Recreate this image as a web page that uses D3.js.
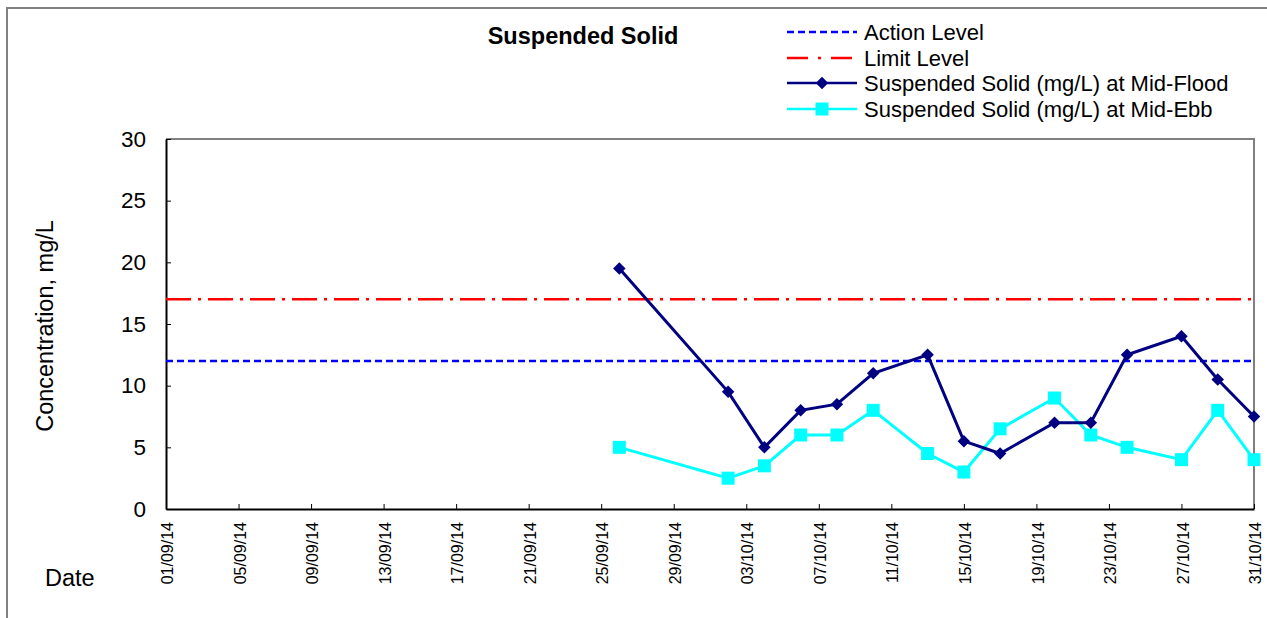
<!DOCTYPE html>
<html>
<head>
<meta charset="utf-8">
<script src="https://cdn.jsdelivr.net/npm/d3@7"></script>
<style>
  body { margin: 0; background: #fff; }
  text { font-family: "Liberation Sans", Arial, sans-serif; fill: #000; }
</style>
</head>
<body>
<div id="chart"></div>
<script>
// Sampling dates (dd/mm/yy)
var dates = ["26/09/14", "02/10/14", "04/10/14", "06/10/14", "08/10/14", "10/10/14", "13/10/14",
             "15/10/14", "17/10/14", "20/10/14", "22/10/14", "24/10/14", "27/10/14", "29/10/14", "31/10/14"];
var midFlood = [19.5, 9.5, 5, 8, 8.5, 11, 12.5, 5.5, 4.5, 7, 7, 12.5, 14, 10.5, 7.5];
var midEbb = [5, 2.5, 3.5, 6, 6, 8, 4.5, 3, 6.5, 9, 6, 5, 4, 8, 4];
var actionLevel = 12;
var limitLevel = 17;
var xTickLabels = ["01/09/14", "05/09/14", "09/09/14", "13/09/14", "17/09/14", "21/09/14", "25/09/14", "29/09/14",
                   "03/10/14", "07/10/14", "11/10/14", "15/10/14", "19/10/14", "23/10/14", "27/10/14", "31/10/14"];
var yTicks = [0, 5, 10, 15, 20, 25, 30];

var parseDate = d3.utcParse("%d/%m/%y");

var main = function () {
    "use strict";

    var width = 1267, height = 618;
    var margin = {top: 139, right: 13, bottom: 109, left: 166};
    var w = width - margin.left - margin.right,
        h = height - margin.top - margin.bottom;

    var svg = d3.select("#chart").append("svg")
        .attr("width", width)
        .attr("height", height);

    // Outer chart frame
    svg.append("rect")
        .attr("x", 7).attr("y", 8)
        .attr("width", 1280).attr("height", 640)
        .attr("fill", "none").attr("stroke", "#808080").attr("stroke-width", 2);

    var g = svg.append("g")
        .attr("transform", "translate(" + margin.left + "," + margin.top + ")");

    var x = d3.scaleUtc()
        .domain([parseDate(xTickLabels[0]), parseDate(xTickLabels[xTickLabels.length - 1])])
        .range([0, w]);
    var y = d3.scaleLinear().domain([0, 30]).range([h, 0]);

    // Plot area border (top and right in gray)
    g.append("path")
        .attr("d", "M0,0H" + w + "V" + h)
        .attr("fill", "none").attr("stroke", "#808080").attr("stroke-width", 2);

    // X axis
    var xAxis = g.append("g")
        .attr("transform", "translate(0," + h + ")")
        .call(d3.axisBottom(x)
            .tickValues(xTickLabels.map(parseDate))
            .tickSize(-5)
            .tickSizeOuter(0)
            .tickFormat(d3.utcFormat("%d/%m/%y")));
    xAxis.select(".domain").attr("stroke", "#000").attr("stroke-width", 2);
    xAxis.selectAll(".tick line").attr("stroke", "#000");
    xAxis.selectAll(".tick text")
        .attr("transform", "rotate(-90)")
        .attr("x", -13).attr("y", 1).attr("dy", "0.35em")
        .style("text-anchor", "end")
        .style("font-size", "16px");

    // Y axis
    var yAxis = g.append("g")
        .call(d3.axisLeft(y)
            .tickValues(yTicks)
            .tickSize(-5)
            .tickSizeOuter(0)
            .tickFormat(d3.format("d")));
    yAxis.select(".domain").attr("stroke", "#000").attr("stroke-width", 2);
    yAxis.selectAll(".tick line").attr("stroke", "#000");
    yAxis.selectAll(".tick text")
        .attr("x", -20)
        .style("font-size", "22.5px");

    // Reference levels
    g.append("line")
        .attr("x1", 0).attr("x2", w)
        .attr("y1", y(actionLevel)).attr("y2", y(actionLevel))
        .attr("stroke", "#0000ff").attr("stroke-width", 2.5)
        .attr("stroke-dasharray", "7,4");
    g.append("line")
        .attr("x1", 0).attr("x2", w)
        .attr("y1", y(limitLevel)).attr("y2", y(limitLevel))
        .attr("stroke", "#ff0000").attr("stroke-width", 2.5)
        .attr("stroke-dasharray", "25,7,3,7");

    var floodData = dates.map(function (d, i) { return {date: parseDate(d), value: midFlood[i]}; });
    var ebbData = dates.map(function (d, i) { return {date: parseDate(d), value: midEbb[i]}; });

    var line = d3.line()
        .x(function (d) { return x(d.date); })
        .y(function (d) { return y(d.value); });

    // Mid-Ebb series
    g.append("path").datum(ebbData)
        .attr("fill", "none").attr("stroke", "#00ffff").attr("stroke-width", 3)
        .attr("d", line);
    g.append("g").selectAll("rect")
        .data(ebbData).enter().append("rect")
        .attr("x", function (d) { return x(d.date) - 6.5; })
        .attr("y", function (d) { return y(d.value) - 6.5; })
        .attr("width", 13).attr("height", 13)
        .attr("fill", "#00ffff");

    // Mid-Flood series
    g.append("path").datum(floodData)
        .attr("fill", "none").attr("stroke", "#000080").attr("stroke-width", 3)
        .attr("d", line);
    var diamond = d3.symbol().type(d3.symbolDiamond2).size(100);
    g.append("g").selectAll("path")
        .data(floodData).enter().append("path")
        .attr("transform", function (d) { return "translate(" + x(d.date) + "," + y(d.value) + ")"; })
        .attr("d", diamond)
        .attr("fill", "#000080");

    // Title
    svg.append("text")
        .attr("x", 583).attr("y", 44)
        .attr("text-anchor", "middle")
        .style("font-size", "23.5px").style("font-weight", "bold")
        .text("Suspended Solid");

    // Axis titles
    svg.append("text")
        .attr("transform", "translate(53," + (margin.top + h / 2 + 2) + ") rotate(-90)")
        .attr("text-anchor", "middle")
        .style("font-size", "23.5px")
        .text("Concentration, mg/L");
    svg.append("text")
        .attr("x", 45).attr("y", 586)
        .style("font-size", "23.5px")
        .text("Date");

    // Legend
    var legendItems = [
        {label: "Action Level", color: "#0000ff", dash: "7,4", marker: null},
        {label: "Limit Level", color: "#ff0000", dash: "21,10,3,10", marker: null},
        {label: "Suspended Solid (mg/L) at Mid-Flood", color: "#000080", dash: null, marker: "diamond"},
        {label: "Suspended Solid (mg/L) at Mid-Ebb", color: "#00ffff", dash: null, marker: "square"}
    ];
    var legendY = [32, 58, 83, 109];
    var legend = svg.append("g");
    legendItems.forEach(function (item, i) {
        var row = legend.append("g").attr("transform", "translate(787," + legendY[i] + ")");
        row.append("line")
            .attr("x1", 0).attr("x2", 70)
            .attr("stroke", item.color).attr("stroke-width", 2.5)
            .attr("stroke-dasharray", item.dash);
        if (item.marker === "diamond") {
            row.append("path").attr("transform", "translate(35,0)")
                .attr("d", diamond).attr("fill", item.color);
        } else if (item.marker === "square") {
            row.append("rect").attr("x", 28.5).attr("y", -6.5)
                .attr("width", 13).attr("height", 13).attr("fill", item.color);
        }
        row.append("text")
            .attr("x", 77).attr("dy", "0.35em")
            .style("font-size", "22px")
            .text(item.label);
    });
};

main();
</script>
</body>
</html>
